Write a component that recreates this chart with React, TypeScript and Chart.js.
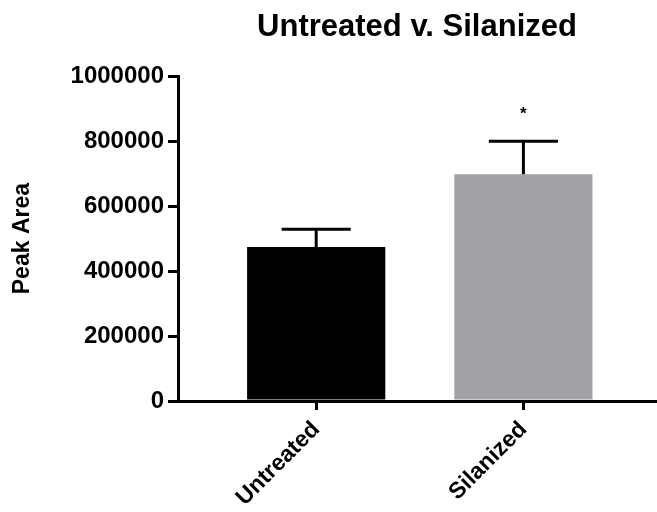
import React, { useEffect, useRef } from "react";
import { Chart, registerables } from "chart.js";

Chart.register(...registerables);

const categories = ["Untreated", "Silanized"];
const peakArea = [474000, 698000];
const errorSD = [55000, 102000];
const significance = ["", "*"];
const barColors = ["#000000", "#a2a1a6"];
const yTicks = [0, 200000, 400000, 600000, 800000, 1000000];

const FONT = "'Liberation Sans', Arial, sans-serif";

const errorBarPlugin = {
  id: "errorBars",
  afterDatasetsDraw(chart: any) {
    const ctx = chart.ctx;
    const meta = chart.getDatasetMeta(0);
    const yScale = chart.scales.y;
    ctx.save();
    ctx.strokeStyle = "#000";
    ctx.lineWidth = 3;
    meta.data.forEach((bar: any, i: number) => {
      const top = yScale.getPixelForValue(peakArea[i] + errorSD[i]);
      const base = yScale.getPixelForValue(peakArea[i]);
      const half = bar.width / 4;
      ctx.beginPath();
      ctx.moveTo(bar.x, base);
      ctx.lineTo(bar.x, top);
      ctx.moveTo(bar.x - half, top);
      ctx.lineTo(bar.x + half, top);
      ctx.stroke();
      if (significance[i]) {
        ctx.fillStyle = "#000";
        ctx.font = `bold 17px ${FONT}`;
        ctx.textAlign = "center";
        ctx.textBaseline = "alphabetic";
        ctx.fillText(significance[i], bar.x, top - 22);
      }
    });
    ctx.restore();
  },
};

export default function App() {
  const ref = useRef<HTMLCanvasElement | null>(null);
  useEffect(() => {
    if (!ref.current) return;
    const chart = new Chart(ref.current, {
      type: "bar",
      data: {
        datasets: [
          {
            data: peakArea.map((v, i) => ({ x: i, y: v })),
            backgroundColor: barColors,
            borderWidth: 0,
            categoryPercentage: 1,
            barPercentage: 0.667,
          },
        ],
      },
      options: {
        animation: false,
        responsive: true,
        maintainAspectRatio: false,
        layout: { padding: { right: 1, top: 0 } },
        plugins: {
          legend: { display: false },
          tooltip: { enabled: false },
          title: {
            display: true,
            text: "Untreated v. Silanized",
            fullSize: false,
            color: "#000",
            font: { family: FONT, size: 31, weight: "bold" },
            padding: { top: 9, bottom: 30 },
          },
        },
        scales: {
          x: {
            type: "linear",
            bounds: "data",
            offset: false,
            min: -0.667,
            max: 1.64,
            afterBuildTicks: (axis: any) => {
              axis.ticks = categories.map((_, i) => ({ value: i }));
            },
            afterFit: (axis: any) => {
              axis.height = 111;
            },
            ticks: {
              autoSkip: false,
              maxRotation: 45,
              minRotation: 45,
              color: "#000",
              padding: 6,
              font: { family: FONT, size: 23, weight: "bold" },
              callback: (v: any) => categories[v as number] ?? "",
            },
            grid: {
              display: true,
              offset: false,
              drawOnChartArea: false,
              drawTicks: true,
              tickLength: 9,
              color: "#000",
              lineWidth: 3,
            },
            border: { display: true, color: "#000", width: 3 },
          },
          y: {
            min: 0,
            max: 1000000,
            afterBuildTicks: (axis: any) => {
              axis.ticks = yTicks.map((v) => ({ value: v }));
            },
            afterFit: (axis: any) => {
              axis.width = 178;
            },
            ticks: {
              color: "#000",
              padding: 4,
              font: { family: FONT, size: 24, weight: "bold" },
              callback: (v: any) => String(v),
            },
            grid: {
              display: true,
              drawOnChartArea: false,
              drawTicks: true,
              tickLength: 10,
              color: "#000",
              lineWidth: 3,
            },
            border: { display: true, color: "#000", width: 3 },
            title: {
              display: true,
              text: "Peak Area",
              color: "#000",
              padding: { top: 9, bottom: 0 },
              font: { family: FONT, size: 23, weight: "bold" },
            },
          },
        },
      },
      plugins: [errorBarPlugin],
    });
    return () => chart.destroy();
  }, []);
  return (
    <div style={{ position: "fixed", left: 0, top: 0, width: 657, height: 512, background: "#fff" }}>
      <canvas ref={ref} />
    </div>
  );
}
